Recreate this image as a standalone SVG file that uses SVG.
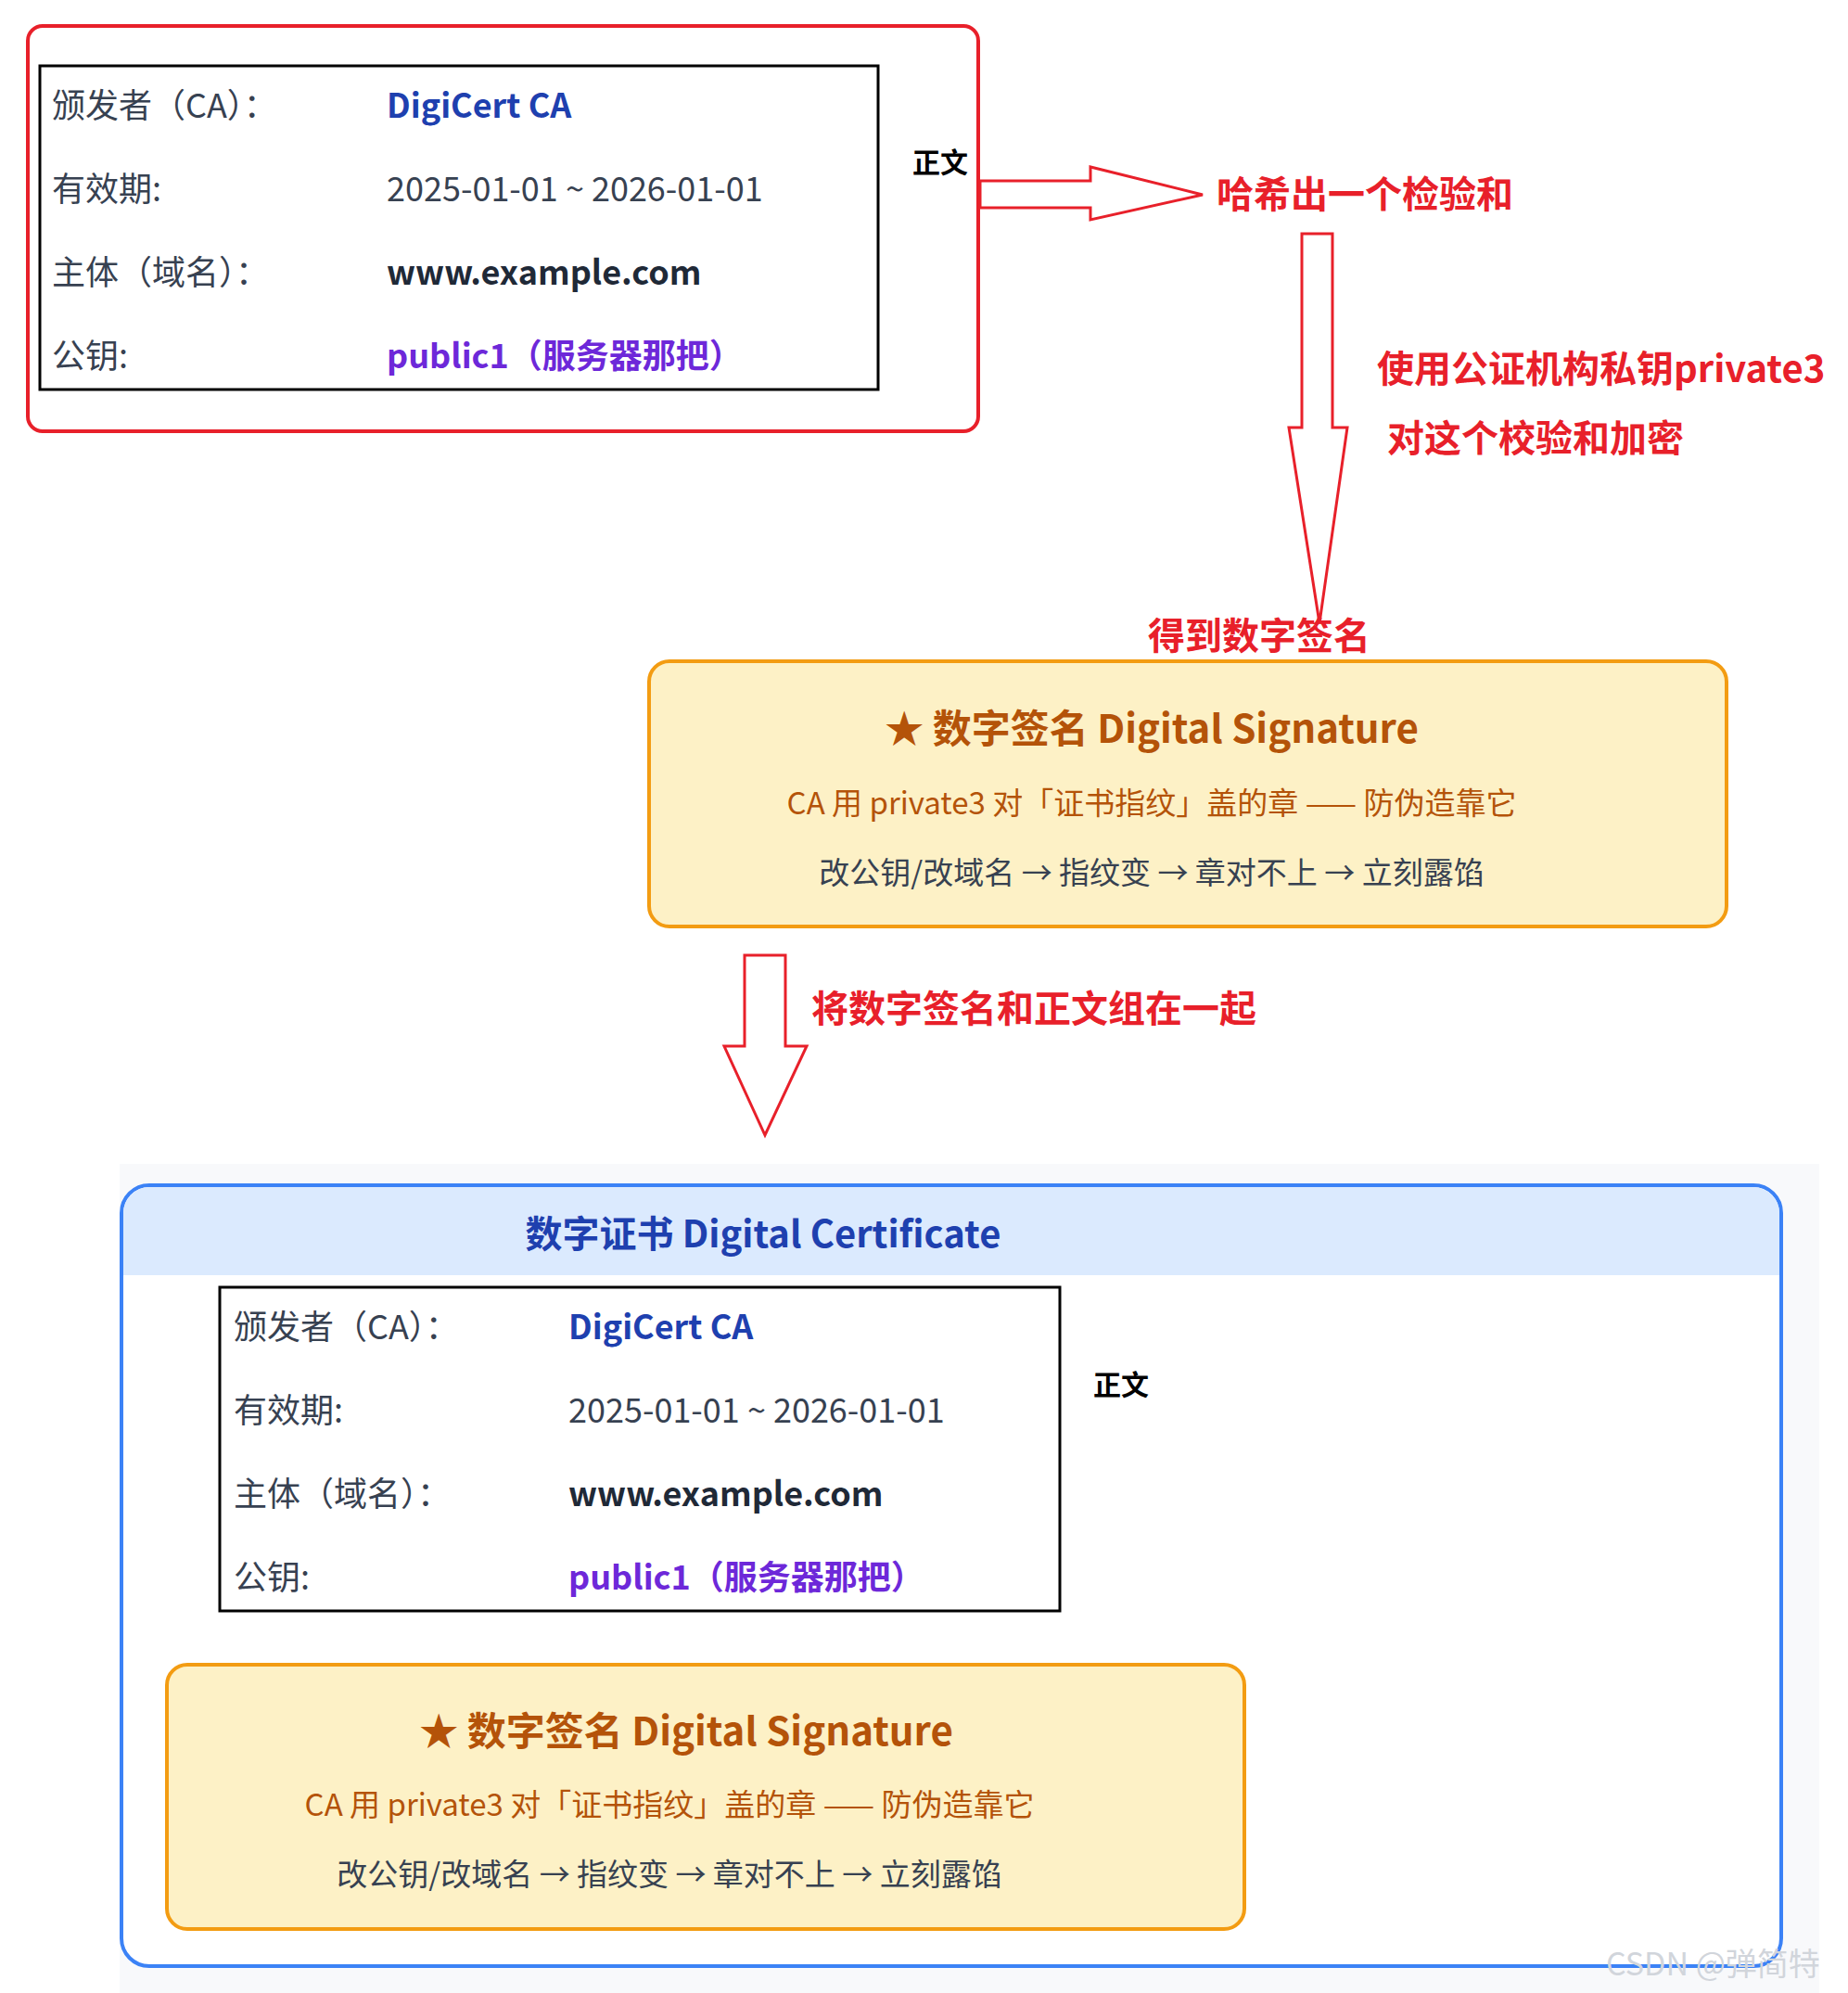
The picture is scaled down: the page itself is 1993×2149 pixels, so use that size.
<svg xmlns="http://www.w3.org/2000/svg" width="1993" height="2149" viewBox="0 0 1993 2149">
<style>
text{font-family:"Noto Sans CJK SC","Noto Sans",sans-serif}
.lb{font-size:36px;fill:#374151}
.v{font-size:36px;fill:#374151}
.ca{font-size:36px;fill:#1e40af;font-weight:bold}
.dom{font-size:36px;fill:#1f2937;font-weight:bold}
.pk{font-size:36px;fill:#6d28d9;font-weight:bold}
.zw{font-size:30px;font-weight:bold;fill:#000}
.red{font-size:40px;font-weight:bold;fill:#e8202a}
.st{font-size:42px;font-weight:bold;fill:#b45309;text-anchor:middle}
.s1{font-size:33px;fill:#b45309;text-anchor:middle}
.s2{font-size:33px;fill:#374151;text-anchor:middle}
.sig{fill:#fdf1c6;stroke:#f39c12;stroke-width:4}
.arr{fill:#fff;stroke:#e8202a;stroke-width:3}
</style>
<rect width="1993" height="2149" fill="#fff"/>
<g id="plain">
<rect x="30" y="28" width="1025" height="437" rx="16" fill="none" stroke="#e8202a" stroke-width="4"/>
<rect x="43" y="71" width="904" height="349" fill="#fff" stroke="#000" stroke-width="3"/>
<text class="lb" x="56" y="127">颁发者（CA）：</text><text class="ca" x="417" y="127">DigiCert CA</text>
<text class="lb" x="56" y="217">有效期:</text><text class="v" x="417" y="217">2025-01-01 ~ 2026-01-01</text>
<text class="lb" x="56" y="307">主体（域名）：</text><text class="dom" x="417" y="307">www.example.com</text>
<text class="lb" x="56" y="397">公钥:</text><text class="pk" x="417" y="397">public1（服务器那把）</text>
<text class="zw" x="984" y="186">正文</text>
</g>
<g id="connectors">
<polygon class="arr" points="1057,195 1176,195 1176,180 1297,210 1176,237 1176,224 1057,224"/>
<polygon class="arr" points="1404,252 1437,252 1437,461 1453,461 1423,672 1390,461 1404,461"/>
<polygon class="arr" points="803,1030 847,1030 847,1128 870,1128 825,1224 781,1128 803,1128"/>
</g>
<g id="labels">
<text class="red" x="1312" y="224">哈希出一个检验和</text>
<text class="red" x="1485" y="412">使用公证机构私钥private3</text>
<text class="red" x="1496" y="487">对这个校验和加密</text>
<text class="red" x="1238" y="700">得到数字签名</text>
<text class="red" x="875" y="1102">将数字签名和正文组在一起</text>
</g>
<g id="signature">
<rect class="sig" x="700" y="713" width="1162" height="286" rx="22"/>
<text class="st" x="1242" y="801">★ 数字签名 Digital Signature</text>
<text class="s1" x="1242" y="878">CA 用 private3 对「证书指纹」盖的章 —— 防伪造靠它</text>
<text class="s2" x="1242" y="953">改公钥/改域名 → 指纹变 → 章对不上 → 立刻露馅</text>
</g>
<g id="certificate">
<rect x="129" y="1255" width="1833" height="894" fill="#f8f9fb"/>
<rect x="131" y="1278" width="1790" height="842" rx="30" fill="#fff" stroke="#3b82f6" stroke-width="4"/>
<path d="M133,1375 V1308 A28,28 0 0 1 161,1280 H1891 A28,28 0 0 1 1919,1308 V1375 Z" fill="#dbeafe"/>
<text x="823" y="1345" text-anchor="middle" font-size="40" font-weight="bold" fill="#1e40af">数字证书 Digital Certificate</text>
<rect x="237" y="1388" width="906" height="349" fill="#fff" stroke="#000" stroke-width="3"/>
<text class="lb" x="252" y="1444">颁发者（CA）：</text><text class="ca" x="613" y="1444">DigiCert CA</text>
<text class="lb" x="252" y="1534">有效期:</text><text class="v" x="613" y="1534">2025-01-01 ~ 2026-01-01</text>
<text class="lb" x="252" y="1624">主体（域名）：</text><text class="dom" x="613" y="1624">www.example.com</text>
<text class="lb" x="252" y="1714">公钥:</text><text class="pk" x="613" y="1714">public1（服务器那把）</text>
<text class="zw" x="1179" y="1504">正文</text>
<rect class="sig" x="180" y="1795" width="1162" height="285" rx="22"/>
<text class="st" x="740" y="1882">★ 数字签名 Digital Signature</text>
<text class="s1" x="722" y="1958">CA 用 private3 对「证书指纹」盖的章 —— 防伪造靠它</text>
<text class="s2" x="722" y="2033">改公钥/改域名 → 指纹变 → 章对不上 → 立刻露馅</text>
</g>
<text x="1732" y="2130" font-size="34" fill="#d1d5db" font-family="Liberation Sans,Noto Sans CJK SC,sans-serif">CSDN @弹简特</text>
</svg>
